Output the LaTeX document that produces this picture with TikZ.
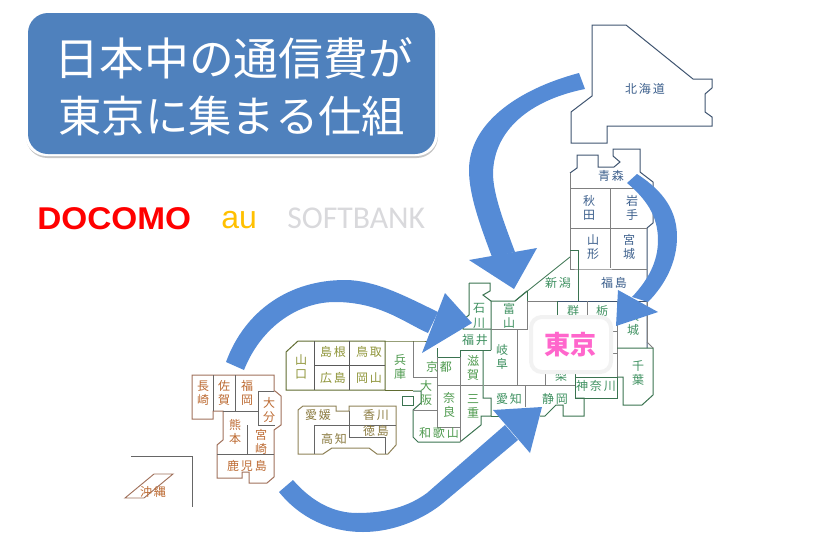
\documentclass[tikz,border=0pt]{standalone}
\usepackage{fontspec}
\setmainfont{Liberation Sans}
\newfontfamily\jp{Noto Sans CJK JP}
\newfontfamily\carl{Carlito}
\definecolor{arrowblue}{HTML}{558BD6}
\definecolor{titleblue}{HTML}{4F81BD}
\definecolor{tohokuline}{HTML}{3F5470}
\definecolor{tohokutext}{HTML}{3C5F8C}
\definecolor{greenline}{HTML}{3A7350}
\definecolor{greentext}{HTML}{3E9060}
\definecolor{kansaitext}{HTML}{4F9A4F}
\definecolor{chuline}{HTML}{5F6B30}
\definecolor{chutext}{HTML}{8E9438}
\definecolor{shikline}{HTML}{8F8258}
\definecolor{shiktext}{HTML}{8A7A40}
\definecolor{kyuline}{HTML}{A0705A}
\definecolor{kyutext}{HTML}{BC6A32}
\tikzset{
  x=0.75pt,y=-0.75pt,
  reg/.style={line width=0.75pt,line join=miter},
  tohoku/.style={reg,draw=tohokuline},
  chubu/.style={reg,draw=greenline},
  chugoku/.style={reg,draw=chuline},
  shikoku/.style={reg,draw=shikline},
  kyushu/.style={reg,draw=kyuline},
  lab/.style={font=\jp\fontsize{9}{10.6}\selectfont,inner sep=0pt,align=center},
  tl/.style={lab,text=tohokutext},
  gl/.style={lab,text=greentext},
  kl/.style={lab,text=kansaitext},
  cl/.style={lab,text=chutext},
  sl/.style={lab,text=shiktext},
  yl/.style={lab,text=kyutext},
  bigarrow/.style={fill=arrowblue,draw=none},
}
\begin{document}
\begin{tikzpicture}
\useasboundingbox (0,0) rectangle (819,557);
% title
\path[fill=black!22,rounded corners=16pt] (26,16) rectangle (438,158);
\path[fill=white,rounded corners=16pt] (25,12) rectangle (438,156);
\path[fill=titleblue,rounded corners=15pt] (28,13) rectangle (435,154);
\node[font=\jp\fontsize{33.6}{34}\selectfont,text=white,inner sep=0pt] (t1) at (234,58) {日本中の通信費が};
\node[font=\jp\fontsize{32.5}{33}\selectfont,text=white,inner sep=0pt] (t2) at (232,116) {東京に集まる仕組};
% carriers
\node[font=\bfseries\fontsize{23.6}{24}\selectfont,text=red,inner sep=0pt,anchor=base west] (docomo) at (37,229) {\scalebox{1.06}[1]{DOCOMO}};
\node[font=\fontsize{24}{24}\selectfont,text={rgb,255:red,255;green,192;blue,0},inner sep=0pt,anchor=base west] (au) at (221,228) {au};
\node[font=\carl\fontsize{23.8}{24}\selectfont,text={rgb,255:red,217;green,217;blue,220},inner sep=0pt,anchor=base west] (sb) at (287,228) {SOFTBANK};
% Hokkaido
\draw[tohoku] (592,25)--(626,25)--(693,79)--(712,79)--(712,88)--(705,94)--(705,112)--(712,117)--(712,126)--(607,126)--(607,143)--(571,143)--(571,112)--(592,96)--cycle;
% Tohoku
\draw[tohoku] (570,173)--(577,168)--(577,155)--(598,155)--(598,167)--(614,167)--(620,162)--(613,156)--(613,149)--(640,149)--(640,172)--(653,182)--(653,223)--(647,228)--(647,268)--(647,348);
\draw[tohoku,draw=gray] (570,173)--(570,269)--(578,269)--(647,269);
\draw[tohoku,draw=gray] (570,188)--(653,188) (610,188)--(610,268) (570,228)--(647,228);
% Chubu etc.
\draw[chubu] (570,250)--(578,250)--(578,301);
\draw[chubu,line width=0.6pt] (570,257)--(515,301);
\draw[chubu] (527,291)--(527,301);
\draw[draw=gray,reg] (527,301)--(557,301);
\draw[tohoku] (557,301)--(647,301);
\draw[chubu] (491,301)--(515,301)--(527,291);
\draw[chubu] (469,283)--(490,283)--(490,291)--(483,295)--(491,301)--(491,350);
\draw[chubu] (469,283)--(469,315)--(463,320)--(463,329)--(491,329);
\draw[draw=gray,reg] (491,329)--(527,329)--(527,301);
\draw[draw=gray,reg] (517,329)--(517,385);
\draw[chubu] (491,350)--(460,350)--(460,357)--(437,357)--(437,348);
\draw[chubu] (483,350)--(483,398)--(491,398)--(491,416)--(481,416)--(481,425)--(460,442)--(418,442)--(413,437)--(413,410)--(421,403)--(421,391)--(413,391);
\draw[draw=gray,reg] (460,357)--(460,442) (437,377)--(413,377)--(413,341) (437,357)--(437,427)--(460,427) (413,410)--(437,410) (437,385)--(483,385);
\draw[chubu] (557,301)--(557,316);
\draw[draw=gray,reg] (587,301)--(587,316) (617,301)--(617,377) (610,331)--(617,331) (610,353)--(617,353) (545,373)--(545,385) (647,301)--(647,342);
\draw[draw=gray,reg] (484,385)--(575,385);
\draw[draw=gray,reg] (525,385)--(525,407);
\draw[chubu] (491,416)--(510,416);
\draw[chubu] (540,416)--(545,416)--(556,405)--(563,405)--(563,416)--(584,416)--(584,398)--(575,398);
\draw[chubu] (575,370)--(575,398)--(617,398)--(617,377)--(575,377);
\draw[tohoku,draw=greenline] (617,348)--(653,348)--(653,395)--(642,405)--(623,405)--(623,377)--(617,377);
\draw[tohoku,draw=gray] (647,342)--(653,348);
\draw[chubu] (402,396) rectangle (413,405);
% Chugoku
\draw[chugoku] (286,390)--(286,352)--(298,341)--(385,341)--(385,390)--cycle;
\draw[chugoku] (385,341)--(413,341)--(437,341) (385,390)--(413,390);
\draw[draw=gray!70!black,reg] (314,341)--(314,390) (349,341)--(349,390) (314,365)--(385,365);
% Shikoku
\draw[shikoku] (298,410)--(303,406)--(336,406)--(336,411)--(349,411)--(349,406)--(396,406)--(396,445)--(388,454)--(377,454)--(369,448)--(332,448)--(323,454)--(298,454)--cycle;
\draw[draw=gray!80!black,reg] (349,411)--(349,437)--(385,437)--(385,454) (314,425)--(396,425) (314,425)--(314,454);
% Kyushu
\draw[kyushu] (192,419)--(192,375)--(274,375)--(274,391)--(275,391)--(281,396)--(281,425)--(274,430)--(274,477)--(267,483)--(249,483)--(249,472)--(242,472)--(242,478)--(217,478)--(217,445)--(223,440)--(223,411)--(213,411)--(213,419)--cycle;
\draw[draw=gray!80!black,reg] (213,375)--(213,411) (235,375)--(235,411) (223,411)--(258,411) (258,391)--(274,391) (258,391)--(258,425)--(275,425) (247,425)--(247,454) (217,454)--(274,454);
% Okinawa
\draw[draw=gray!80!black,reg] (131,456)--(192,456)--(192,507);
\draw[kyushu,line width=0.7pt] (154,474)--(173,474)--(144,498)--(125,498)--cycle;
% labels
\node[tl] (hokkaido) at (645,89) {北\,海\,道};
\node[tl] (aomori) at (611,176) {青\,森};
\node[tl] (akita) at (589,208) {秋\\田};
\node[tl] (iwate) at (632,208) {岩\\手};
\node[tl] (yamagata) at (593,247) {山\\形};
\node[tl] (miyagi) at (629,247) {宮\\城};
\node[tl] (fukushima) at (614,283) {福\,島};
\node[gl] (niigata) at (558,283) {新\,潟};
\node[gl] (ishikawa) at (479,316) {石\\川};
\node[gl] (toyama) at (509,316) {富\\山};
\node[gl] (gunma) at (573,311) {群};
\node[gl] (tochigi) at (602,311) {栃};
\node[gl] (ibaraki) at (633,323) {茨\\城};
\node[gl] (fukui) at (475,340) {福\,井};
\node[gl] (gifu) at (502,357) {岐\\阜};
\node[gl] (yamanashi) at (561,376) {梨};
\node[kl] (kyoto) at (439,367) {京\,都};
\node[kl] (shiga) at (473,368) {滋\\賀};
\node[kl] (osaka) at (426,393) {大\\阪};
\node[kl] (nara) at (449,405) {奈\\良};
\node[kl] (mie) at (473,406) {三\\重};
\node[kl] (wakayama) at (439,433) {和\,歌\,山};
\node[gl] (aichi) at (509,399) {愛\,知};
\node[gl] (shizuoka) at (555,399) {静\,岡};
\node[gl] (kanagawa) at (596,386) {神\,奈\,川};
\node[gl] (chiba) at (638,373) {千\\葉};
\node[cl] (yamaguchi) at (301,367) {山\\口};
\node[cl] (shimane) at (333,352) {島\,根};
\node[cl] (tottori) at (369,352) {鳥\,取};
\node[cl] (hiroshima) at (333,378) {広\,島};
\node[cl] (okayama) at (369,378) {岡\,山};
\node[kl] (hyogo) at (400,367) {兵\\庫};
\node[sl] (ehime) at (318,415) {愛\,媛};
\node[sl] (kagawa) at (376,415) {香\,川};
\node[sl] (tokushima) at (376,431) {徳\,島};
\node[sl] (kochi) at (334,439) {高\,知};
\node[yl] (nagasaki) at (203,393) {長\\崎};
\node[yl] (saga) at (224,393) {佐\\賀};
\node[yl] (fukuoka) at (247,393) {福\\岡};
\node[yl] (oita) at (269,410) {大\\分};
\node[yl] (kumamoto) at (235,432) {熊\\本};
\node[yl] (miyazaki) at (261,442) {宮\\崎};
\node[yl] (kagoshima) at (247,466) {鹿\,児\,島};
\node[yl] (okinawa) at (153,492) {沖\,縄};
% Tokyo
\path[fill=white,draw={rgb,255:red,242;green,242;blue,242},line width=3pt,rounded corners=8pt] (531,317) rectangle (611,372);
\node[font=\jp\bfseries\fontsize{19.5}{20}\selectfont,text={rgb,255:red,255;green,102;blue,204},inner sep=0pt] (tokyo) at (570,345) {東京};
% arrows
\fill[bigarrow] (579,73) .. controls (515,90) and (469,125) .. (469,170) .. controls (469,195) and (480,225) .. (492,257) -- (515,252) .. controls (505,225) and (493,195) .. (493,173) .. controls (494,130) and (530,100) .. (585,89) -- cycle;
\fill[bigarrow] (469,260) -- (537,248) -- (514,289) -- cycle;
\fill[bigarrow] (637,174) .. controls (665,192) and (677,212) .. (677,237) .. controls (677,262) and (665,285) .. (648,302) -- (632,297) .. controls (648,280) and (658,262) .. (658,240) .. controls (658,215) and (645,198) .. (627,183) -- cycle;
\fill[bigarrow] (618,290) -- (658,312) -- (616,326) -- cycle;
\fill[bigarrow] (226,362) .. controls (245,310) and (290,280) .. (345,280) .. controls (375,280) and (405,296) .. (438,312) -- (428,333) .. controls (405,323) and (380,302) .. (335,302) .. controls (300,302) and (262,325) .. (244,370) -- cycle;
\fill[bigarrow] (445,293) -- (472,323) -- (422,353) -- cycle;
\fill[bigarrow] (279,492) .. controls (300,518) and (330,532) .. (363,532) .. controls (395,532) and (425,518) .. (443,503) -- (518,440) -- (505,425) -- (427,493) .. controls (408,507) and (385,513) .. (357,513) .. controls (335,513) and (313,503) .. (293,480) -- cycle;
\fill[bigarrow] (493,410) -- (542,407) -- (530,453) -- cycle;
\end{tikzpicture}
\end{document}
